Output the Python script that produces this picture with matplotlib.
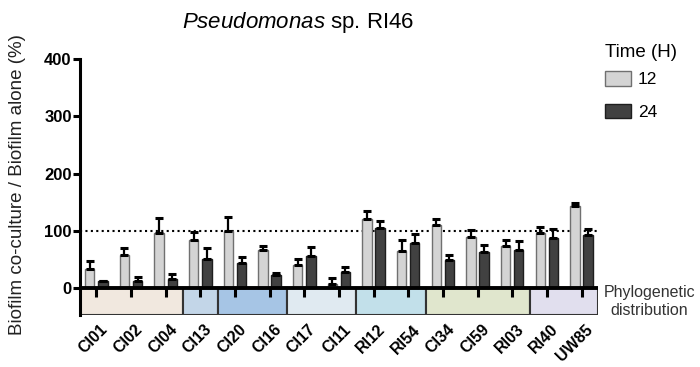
import matplotlib
matplotlib.use("Agg")
import matplotlib.pyplot as plt
from matplotlib.patches import Rectangle
import matplotlib.transforms as mtransforms
import numpy as np

plt.rcParams['font.family'] = ['Liberation Sans', 'DejaVu Sans']
plt.rcParams['mathtext.fontset'] = 'custom'
plt.rcParams['mathtext.it'] = 'Liberation Sans:italic'
plt.rcParams['mathtext.rm'] = 'Liberation Sans'

strains = ["CI01", "CI02", "CI04", "CI13", "CI20", "CI16", "CI17", "CI11",
           "RI12", "RI54", "CI34", "CI59", "RI03", "RI40", "UW85"]
h12 = [33, 58, 96, 84, 100, 66, 41, 7, 120, 64, 111, 90, 74, 97, 144]
h12_err = [15, 12, 27, 14, 25, 7, 10, 11, 15, 20, 10, 11, 10, 10, 4]
h24 = [12, 13, 16, 51, 44, 22, 56, 28, 105, 78, 49, 63, 67, 88, 92]
h24_err = [1, 7, 9, 19, 11, 5, 16, 9, 12, 17, 9, 13, 16, 15, 11]
group_sizes = [3, 1, 2, 2, 2, 3, 2]
group_colors = ["#f1e8df", "#c3d6e8", "#a6c5e5", "#e0eaf1", "#c2e0ea", "#e0e6cd", "#e1dfee"]

fig = plt.figure(figsize=(7, 3.67), dpi=100)
ax = fig.add_axes([0.1143, 0.1417, 0.854 - 0.1143, 0.839 - 0.1417])

x = np.arange(len(strains))
w = 0.27
off = 0.19
ax.bar(x - off, h12, w, color="#d4d4d4", edgecolor="#707070", linewidth=1.0, zorder=3, label="12")
ax.bar(x + off, h24, w, color="#414141", edgecolor="#1e1e1e", linewidth=1.0, zorder=3, label="24")
ax.errorbar(x - off, h12, yerr=[np.zeros(len(h12)), h12_err], fmt='none', ecolor='black',
            elinewidth=1.6, capsize=3, capthick=2.2, zorder=4)
ax.errorbar(x + off, h24, yerr=[np.zeros(len(h24)), h24_err], fmt='none', ecolor='black',
            elinewidth=1.6, capsize=3, capthick=2.2, zorder=4)

ybot = -47
ax.set_xlim(-0.47, len(strains) - 0.53)
ax.set_ylim(ybot, 400)

# phylogenetic boxes
start = 0
for n, c in zip(group_sizes, group_colors):
    left = start - 0.5 if start > 0 else -0.47
    right = start + n - 0.5 if start + n < len(strains) else len(strains) - 0.53
    ax.add_patch(Rectangle((left, ybot), right - left, -ybot,
                           facecolor=c, edgecolor="#333333", linewidth=1.5, zorder=2))
    start += n

ax.axhline(0, color='black', lw=2.8, zorder=5)
ax.axhline(100, color='black', lw=1.5, ls=(0, (1, 1.6)), zorder=1)
ax.vlines(x, -15, 0, color='black', lw=2.2, zorder=5)

for s in ['top', 'right', 'bottom']:
    ax.spines[s].set_visible(False)
ax.spines['left'].set_linewidth(2.2)
ax.spines['left'].set_bounds(ybot, 400)

ax.set_yticks([0, 100, 200, 300, 400])
ax.tick_params(axis='y', length=5, width=2.2, labelsize=12, pad=1)
for lab in ax.get_yticklabels():
    lab.set_fontweight('bold')

ax.set_xticks(x)
ax.set_xticklabels(strains, rotation=45, ha='right', rotation_mode='anchor',
                   fontweight='bold', fontsize=11.5)
ax.tick_params(axis='x', length=0, pad=5)
shift = mtransforms.ScaledTranslation(4 / 100, 0, fig.dpi_scale_trans)
for lab in ax.get_xticklabels():
    lab.set_transform(lab.get_transform() + shift)

ax.set_ylabel("Biofilm co-culture / Biofilm alone (%)", fontsize=13.5, color="#222222")
ax.yaxis.set_label_coords(-0.105, 0.51)

fig.text(0.426, 0.94, r"$\it{Pseudomonas}$ sp. RI46", fontsize=16, ha='center', va='center')

ax.text(1.10, 0.053, "Phylogenetic\ndistribution", transform=ax.transAxes, ha='center', va='center',
        fontsize=11.5, color="#333333", linespacing=1.25)

leg = ax.legend(title="Time (H)", loc='upper left', bbox_to_anchor=(0.99, 1.105), frameon=False,
                fontsize=12.5, title_fontsize=13.5, handlelength=1.5, handleheight=0.9,
                labelspacing=0.95, handletextpad=0.4, borderpad=0.2, alignment='left')
leg._legend_box.sep = 7

fig.savefig("out.png", dpi=100)
